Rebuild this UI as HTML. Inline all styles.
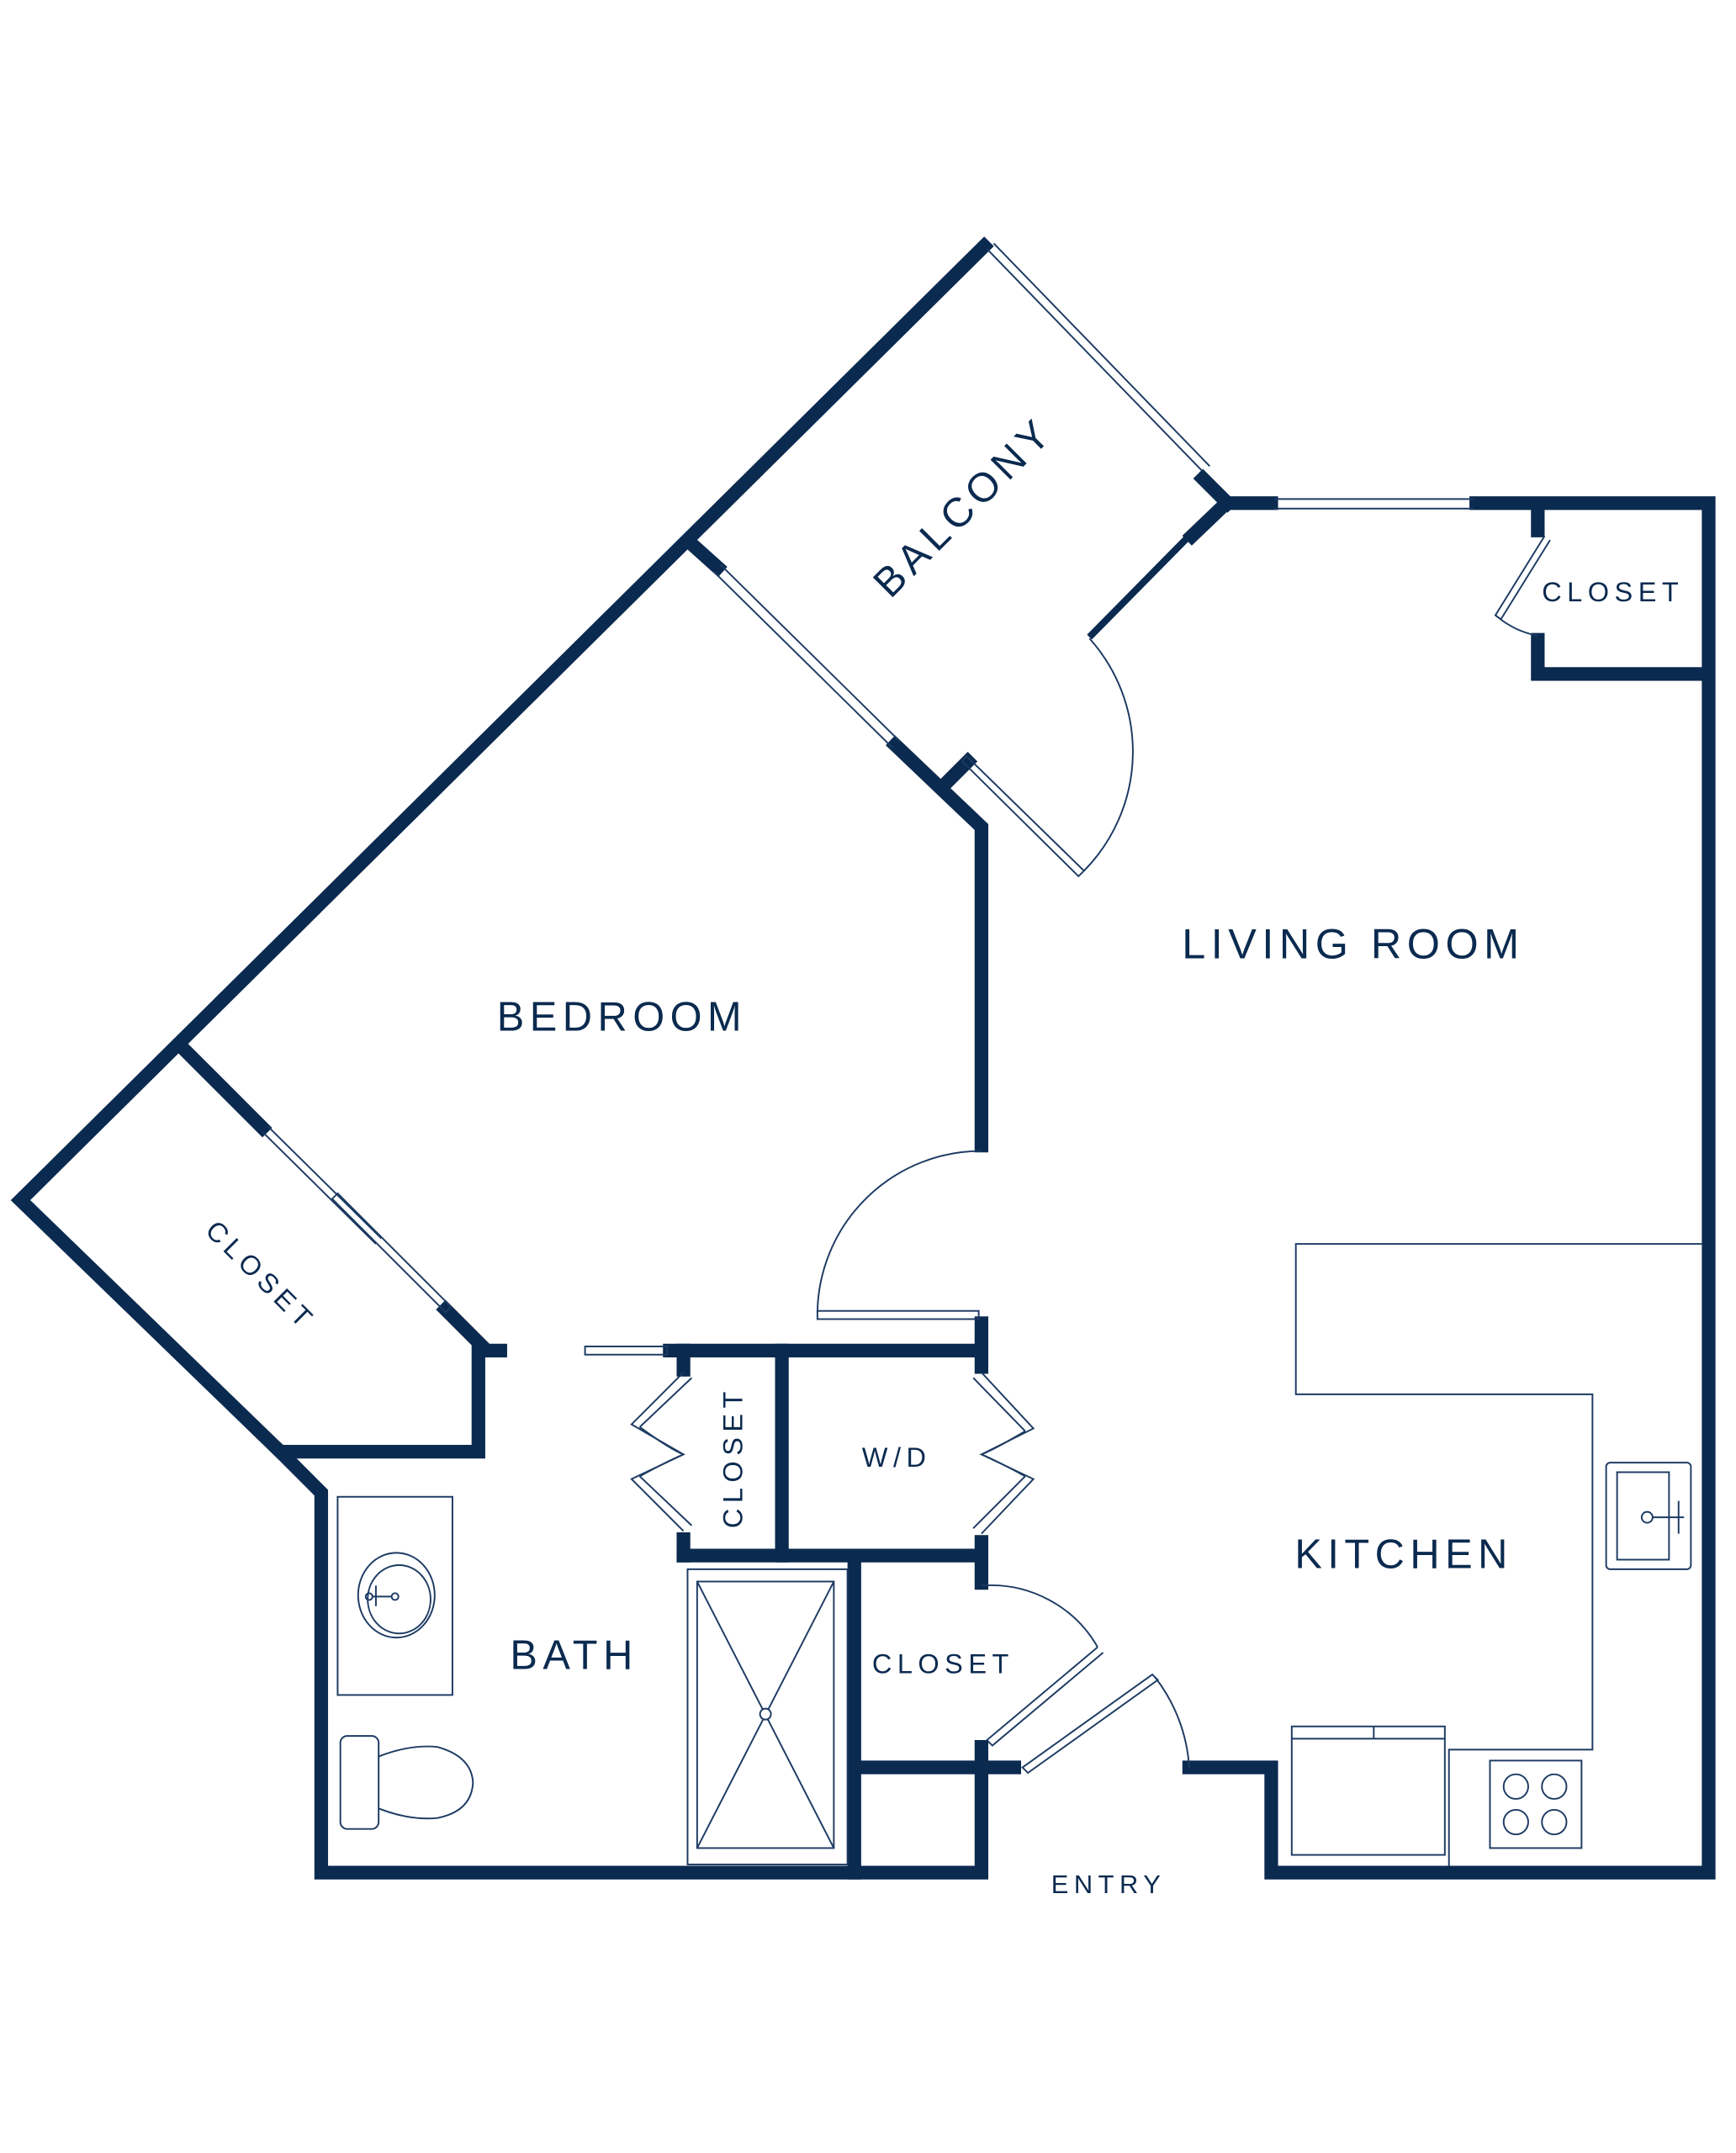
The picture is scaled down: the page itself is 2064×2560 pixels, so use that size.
<!DOCTYPE html>
<html><head><meta charset="utf-8"><style>
html,body{margin:0;padding:0;background:#fff}
svg{display:block}
text{font-family:"Liberation Sans",sans-serif;fill:#0b2a4f;letter-spacing:4px}
</style></head><body>
<svg width="2064" height="2560" viewBox="0 0 1270 1575" xmlns="http://www.w3.org/2000/svg">
<g stroke="#0b2a4f" stroke-width="10" fill="none" stroke-linecap="square" stroke-linejoin="miter">
<!-- outer diagonal -->
<polyline points="720,180 15,878 205,1062 350,1062 350,988 366,988"/>
<polyline points="205,1062 235,1092 235,1370 718,1370 718,1293"/>
<polyline points="870,1293 930,1293 930,1370 1250,1370 1250,368 1080,368"/>
<line x1="898" y1="368" x2="930" y2="368"/>
<line x1="880" y1="350" x2="898" y2="368"/>
<line x1="895" y1="370" x2="872" y2="392"/>
<line x1="505" y1="397" x2="525" y2="415"/>
<polyline points="655,545 718,605 718,838"/>
<line x1="692" y1="573" x2="708" y2="557"/>
<line x1="135" y1="768" x2="192" y2="825"/>
<line x1="326" y1="958" x2="352" y2="984"/>
<line x1="718" y1="968" x2="718" y2="1000"/>
<line x1="490" y1="988" x2="718" y2="988"/>
<line x1="572" y1="988" x2="572" y2="1138"/>
<line x1="500" y1="988" x2="500" y2="1002"/>
<line x1="500" y1="1126" x2="500" y2="1138"/>
<line x1="500" y1="1138" x2="718" y2="1138"/>
<line x1="718" y1="1128" x2="718" y2="1158"/>
<line x1="625" y1="1142" x2="625" y2="1370"/>
<line x1="625" y1="1293" x2="742" y2="1293"/>
<line x1="718" y1="1278" x2="718" y2="1293"/>
<line x1="1125" y1="373" x2="1125" y2="388"/>
<polyline points="1125,468 1125,493 1245,493"/>
</g>
<g stroke="#0b2a4f" stroke-width="5" fill="none">
<line x1="868" y1="394" x2="797" y2="466"/>
</g>
<g stroke="#1d3b63" stroke-width="1.2" fill="none">
<!-- windows -->
<line x1="722" y1="182" x2="880" y2="345"/><line x1="727" y1="178" x2="885" y2="341"/>
<line x1="932" y1="365" x2="1078" y2="365"/><line x1="932" y1="372" x2="1078" y2="372"/>
<line x1="522" y1="418" x2="653" y2="547"/><line x1="527" y1="413" x2="658" y2="542"/>
<!-- balcony door -->
<path d="M707,553 L793,637 L789,641 L704,557 Z"/>
<path d="M797,467 A124,124 0 0 1 793,637"/>
<!-- left closet sliders -->
<line x1="192" y1="828" x2="275" y2="910"/><line x1="196" y1="824" x2="279" y2="906"/>
<path d="M247,873 L330,956 L326,960 L243,877 Z"/>
<!-- bedroom door -->
<rect x="598" y="959" width="118" height="6"/>
<path d="M598,960 A120,120 0 0 1 718,842"/>
<!-- bath slider -->
<rect x="428" y="985" width="60" height="6"/>
<!-- bath closet bifold -->
<path d="M500,1004 L462,1042 L500,1064 M506,1008 L468,1044 M500,1064 L462,1082 L500,1120 M506,1116 L468,1080"/>
<path d="M468,1044 Q490,1060 500,1064 Q490,1068 468,1080"/>
<!-- W/D bifold -->
<path d="M718,1004 L756,1045 L718,1064 M712,1008 L750,1047 M718,1064 L756,1082 L718,1122 M712,1118 L750,1080"/>
<path d="M750,1047 Q728,1060 718,1064 Q728,1068 750,1080"/>
<!-- closet door -->
<path d="M718,1160 A90,90 0 0 1 803,1205"/>
<path d="M803,1205 L722,1273 L726,1277 L807,1209"/>
<!-- entry door -->
<path d="M748,1293 L843,1225 L847,1229 L752,1297 Z"/>
<path d="M845,1227 A120,120 0 0 1 870,1293"/>
<!-- closet top right door -->
<path d="M1130,392 L1094,450 L1098,453 L1134,395"/>
<path d="M1094,450 Q1108,462 1125,465"/>
<!-- kitchen counter -->
<polyline points="1245,910 948,910 948,1020 1165,1020 1165,1280 1060,1280 1060,1365"/>
<rect x="945" y="1263" width="112" height="94"/>
<line x1="945" y1="1272" x2="1057" y2="1272"/><line x1="1005" y1="1263" x2="1005" y2="1272"/>
<rect x="1090" y="1288" width="67" height="64"/>
<circle cx="1109" cy="1307" r="9"/><circle cx="1137" cy="1307" r="9"/>
<circle cx="1109" cy="1333" r="9"/><circle cx="1137" cy="1333" r="9"/>
<rect x="1175" y="1070" width="62" height="78" rx="3"/>
<rect x="1183" y="1077" width="38" height="64"/>
<circle cx="1205" cy="1110" r="4"/><line x1="1209" y1="1110" x2="1232" y2="1110"/><line x1="1228" y1="1098" x2="1228" y2="1122"/>
<!-- bath -->
<rect x="247" y="1095" width="84" height="145"/>
<ellipse cx="290" cy="1167" rx="28" ry="31"/><ellipse cx="292" cy="1170" rx="23" ry="25"/>
<circle cx="270" cy="1168" r="2.5"/><circle cx="289" cy="1168" r="2.5"/><line x1="272" y1="1168" x2="287" y2="1168"/><line x1="275" y1="1160" x2="275" y2="1175"/>
<rect x="249" y="1270" width="28" height="68" rx="5"/>
<path d="M277,1285 Q300,1276 320,1278 Q345,1285 346,1304 Q345,1325 320,1330 Q300,1332 277,1323"/>
<rect x="503" y="1148" width="117" height="216"/>
<rect x="510" y="1157" width="100" height="195"/>
<line x1="510" y1="1157" x2="610" y2="1352"/><line x1="610" y1="1157" x2="510" y2="1352"/>
<circle cx="560" cy="1254" r="4" fill="#fff"/>
</g>
<text x="0" y="0" font-size="30" transform="translate(712,378) rotate(-45)" text-anchor="middle">BALCONY</text>
<text x="990" y="701" font-size="31" text-anchor="middle">LIVING ROOM</text>
<text x="455" y="754" font-size="30" text-anchor="middle">BEDROOM</text>
<text x="1027" y="1147" font-size="30" text-anchor="middle">KITCHEN</text>
<text x="420" y="1221" font-size="30" text-anchor="middle">BATH</text>
<text x="1180" y="440" font-size="20" text-anchor="middle">CLOSET</text>
<text x="0" y="0" font-size="20" transform="translate(186,938) rotate(45)" text-anchor="middle">CLOSET</text>
<text x="0" y="0" font-size="20" transform="translate(543,1066) rotate(-90)" text-anchor="middle">CLOSET</text>
<text x="656" y="1073" font-size="20" text-anchor="middle">W/D</text>
<text x="690" y="1224" font-size="20" text-anchor="middle">CLOSET</text>
<text x="811" y="1385" font-size="19" text-anchor="middle">ENTRY</text>
</svg>
</body></html>
